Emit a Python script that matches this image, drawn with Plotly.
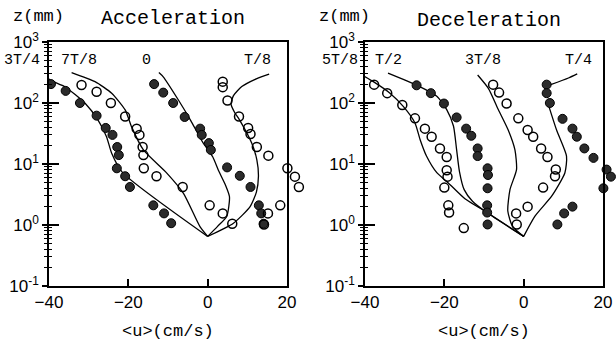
import plotly.graph_objects as go

# ---------------- data (u in cm/s, z in mm) ----------------
# Acceleration panel: measured points
acc_3T4_u = [-39.5, -35.8, -32.2, -28.0, -25.7, -24.0, -22.8, -22.4, -22.9, -20.8, -19.6, -13.7, -11.0, -9.2]
acc_3T4_z = [204, 158, 100, 62, 39, 30, 19, 14, 8.5, 6.3, 4.2, 2.1, 1.55, 1.07]
acc_7T8_u = [-31.8, -28.0, -24.4, -20.8, -17.9, -17.2, -16.4, -16.2, -16.1, -12.9, -6.3, 0.5, 3.8, 6.2]
acc_7T8_z = [197, 153, 100, 60, 38, 30, 19, 14, 8.5, 6.3, 4.2, 2.1, 1.55, 1.05]
acc_0_u = [-13.5, -11.2, -8.7, -5.8, -1.9, -1.5, 0.3, 0.8, 4.9, 8.1, 10.8, 12.9, 13.5, 14.1]
acc_0_z = [204, 148, 100, 59, 38, 30, 22, 17, 8.8, 6.4, 4.2, 2.1, 1.55, 1.05]
acc_T8_u = [3.8, 3.8, 5.0, 7.9, 10.2, 10.8, 12.4, 15.3, 20.1, 22.0, 23.0, 18.3, 15.2, 14.2]
acc_T8_z = [224, 182, 110, 60, 39, 31, 19, 13.7, 8.5, 6.2, 4.2, 2.1, 1.55, 1.02]

# Acceleration panel: computed curves
acc_line_3T4_u = [-41.8, -39.7, -36.0, -30.9, -27.6, -25.5, -24.2, -21.5, 0.0]
acc_line_3T4_z = [324, 238, 185, 99, 52, 28, 15, 7.3, 0.65]
acc_line_7T8_u = [-34.3, -28.4, -24.2, -20.8, -19.2, -16.2, -10.3, -6.1, -1.9, 0.0]
acc_line_7T8_z = [316, 224, 145, 77, 41, 17, 7.1, 3.3, 0.93, 0.65]
acc_line_0_u = [-12.3, -11.2, -7.3, -4.3, -1.3, 1.3, 2.7, 4.5, 5.5, 4.8, 2.5, 0.0]
acc_line_0_z = [316, 269, 110, 52, 23, 13, 7.9, 4.5, 2.9, 1.38, 0.95, 0.65]
acc_line_T8_u = [15.5, 12.4, 8.6, 6.5, 5.9, 6.8, 8.1, 11.1, 12.4, 12.8, 12.3, 10.7, 6.5, 0.0]
acc_line_T8_z = [298, 251, 186, 132, 95, 70, 52, 22, 11.7, 6.3, 3.5, 2.0, 1.07, 0.65]

# Deceleration panel: measured points
dec_5T8_u = [-37.7, -34.4, -30.6, -27.4, -24.9, -23.2, -21.1, -19.4, -19.4, -19.2, -20.0, -19.0, -18.8, -15.1]
dec_5T8_z = [200, 145, 93, 56, 38, 28, 18, 13, 7.9, 6.2, 4.1, 2.1, 1.6, 0.89]
dec_T2_u = [-27.0, -23.4, -20.1, -16.9, -14.5, -13.2, -11.6, -11.6, -9.1, -9.0, -9.1, -9.2, -9.2, -9.1]
dec_T2_z = [195, 145, 98, 58, 38, 29, 18, 13.5, 8.5, 6.6, 4.0, 2.1, 1.6, 1.02]
dec_3T8_u = [-7.7, -6.2, -4.3, -1.35, 1.0, 2.4, 4.4, 6.0, 8.1, 7.9, 4.9, 1.0, -1.9, -1.75]
dec_3T8_z = [200, 148, 98, 56, 36, 28, 18, 13, 8.1, 6.3, 4.1, 2.0, 1.55, 1.02]
dec_T4_u = [5.8, 5.8, 6.6, 9.8, 12.3, 13.4, 15.3, 17.6, 20.9, 22.0, 20.1, 12.3, 10.2, 8.5]
dec_T4_z = [200, 145, 100, 55, 38, 28, 18, 12.6, 8.1, 6.2, 4.0, 2.0, 1.55, 1.02]

# Deceleration panel: computed curves
dec_line_5T8_u = [-41.3, -37.9, -33.7, -30.3, -27.4, -26.1, -24.5, -21.9, -19.0, -14.8, -9.2, 0.0]
dec_line_5T8_z = [302, 224, 145, 87, 47, 25, 13.5, 7.2, 4.9, 2.7, 1.6, 0.65]
dec_line_T2_u = [-34.2, -26.6, -21.9, -19.4, -17.7, -16.9, -16.2, -15.0, -12.9, -9.3, 0.0]
dec_line_T2_z = [309, 191, 129, 78, 42, 17, 7.6, 3.8, 2.45, 1.6, 0.65]
dec_line_3T8_u = [-11.6, -8.9, -6.4, -3.9, -2.2, -1.8, -3.45, -4.0, -2.8, 0.0]
dec_line_3T8_z = [288, 174, 78, 36, 17, 8.1, 3.8, 1.7, 0.95, 0.65]
dec_line_T4_u = [13.5, 11.3, 6.8, None, 6.2, 8.3, 10.8, 10.4, 7.1, 2.85, 0.0]
dec_line_T4_z = [300, 257, 200, None, 95, 36, 13.5, 7.2, 3.0, 1.4, 0.65]

# curve labels: (text, u, z)
acc_labels = [("3T/4", -46.8, 490), ("7T/8", -32.4, 490), ("0", -15.3, 490), ("T/8", 12.6, 490)]
dec_labels = [("5T/8", -46.3, 490), ("T/2", -34.0, 490), ("3T/8", -10.3, 490), ("T/4", 13.8, 490)]

x_range = [-40, 20]
x_ticks = [-40, -20, 0, 20]
x_ticktext = ["\u221240", "\u221220", "0", "20"]
y_range_log = [-1, 3]
y_ticks = [0.1, 1, 10, 100, 1000]
y_ticktext = ["10<sup>-1</sup>", "10<sup>0</sup>", "10<sup>1</sup>", "10<sup>2</sup>", "10<sup>3</sup>"]
y_minor = [m * 10 ** e for e in range(-1, 3) for m in range(2, 10)]

# ---------------- figure ----------------
fig = go.Figure()
MONO = "Liberation Mono, Courier New, monospace"
SANS = "Liberation Sans, Arial, sans-serif"
W, H = 616, 356

# frame (axes) pixel boxes of the two panels
L1, R1 = 49, 287
L2, R2 = 365, 603
TOP, BOT = 42, 286
ydom = [(H - BOT) / H, (H - TOP) / H]
pxu = (R1 - L1) / (x_range[1] - x_range[0])  # pixels per cm/s

# data areas extend a little past u=20 so points drawn outside the frame stay visible
D1 = 306
D2 = W
data_range1 = [x_range[0], x_range[0] + (D1 - L1) / pxu]
data_range2 = [x_range[0], x_range[0] + (D2 - L2) / pxu]

def add_points(u, z, filled, xa, ya):
    if filled:
        marker = dict(symbol="circle", size=9, color="#2b2b2b", line=dict(color="black", width=1))
    else:
        marker = dict(symbol="circle-open", size=9, color="black", line=dict(color="black", width=1.5))
    fig.add_trace(go.Scatter(x=u, y=z, mode="markers", marker=marker,
                             showlegend=False, xaxis=xa, yaxis=ya, hoverinfo="skip"))

def add_line(u, z, xa, ya):
    fig.add_trace(go.Scatter(x=u, y=z, mode="lines",
                             line=dict(color="black", width=1.3, shape="spline", smoothing=0.6),
                             connectgaps=False, showlegend=False, xaxis=xa, yaxis=ya, hoverinfo="skip"))

# acceleration (data subplot x / y)
for u, z in [(acc_line_3T4_u, acc_line_3T4_z), (acc_line_7T8_u, acc_line_7T8_z),
             (acc_line_0_u, acc_line_0_z), (acc_line_T8_u, acc_line_T8_z)]:
    add_line(u, z, "x", "y")
add_points(acc_3T4_u, acc_3T4_z, True, "x", "y")
add_points(acc_7T8_u, acc_7T8_z, False, "x", "y")
add_points(acc_0_u, acc_0_z, True, "x", "y")
add_points(acc_T8_u, acc_T8_z, False, "x", "y")

# deceleration (data subplot x2 / y2)
for u, z in [(dec_line_5T8_u, dec_line_5T8_z), (dec_line_T2_u, dec_line_T2_z),
             (dec_line_3T8_u, dec_line_3T8_z), (dec_line_T4_u, dec_line_T4_z)]:
    add_line(u, z, "x2", "y2")
add_points(dec_5T8_u, dec_5T8_z, False, "x2", "y2")
add_points(dec_T2_u, dec_T2_z, True, "x2", "y2")
add_points(dec_3T8_u, dec_3T8_z, False, "x2", "y2")
add_points(dec_T4_u, dec_T4_z, True, "x2", "y2")

# empty traces hosting the frame axes
for xa, ya in [("x3", "y3"), ("x3", "y5"), ("x4", "y4"), ("x4", "y6")]:
    fig.add_trace(go.Scatter(x=[None], y=[None], mode="markers", showlegend=False,
                             xaxis=xa, yaxis=ya, hoverinfo="skip"))

def hidden_x(dom, rng, anchor):
    return dict(domain=dom, range=rng, anchor=anchor, visible=False, fixedrange=True)

def hidden_y(anchor):
    return dict(domain=ydom, range=y_range_log, type="log", anchor=anchor, visible=False, fixedrange=True)

def frame_x(dom, anchor):
    return dict(domain=dom, anchor=anchor, range=x_range, showline=True, linecolor="black", linewidth=1.5,
                mirror=True, ticks="inside", ticklen=7, tickwidth=1.5, tickcolor="black",
                tickvals=x_ticks, ticktext=x_ticktext, tickfont=dict(family=SANS, size=17, color="black"),
                showgrid=False, zeroline=False, fixedrange=True)

def frame_y(anchor):
    return dict(domain=ydom, anchor=anchor, type="log", range=y_range_log, showline=True, linecolor="black",
                linewidth=1.5, mirror=True, ticks="outside", ticklen=5, tickwidth=1.5, tickcolor="black",
                tickvals=y_ticks, ticktext=y_ticktext, tickfont=dict(family=SANS, size=17, color="black"),
                minor=dict(tickvals=y_minor, ticks="outside", ticklen=3, tickwidth=1.3, tickcolor="black",
                           showgrid=False),
                showgrid=False, zeroline=False, fixedrange=True)

def frame_y_inner(anchor, over):
    return dict(domain=ydom, anchor=anchor, overlaying=over, side="left", type="log", range=y_range_log,
                showline=False, ticks="inside", ticklen=10, tickwidth=1.5, tickcolor="black",
                tickvals=y_ticks, showticklabels=False,
                minor=dict(tickvals=y_minor, ticks="inside", ticklen=3, tickwidth=1.3, tickcolor="black",
                           showgrid=False),
                showgrid=False, zeroline=False, fixedrange=True)

annotations = []
def ann(text, xpx, ypx, size, family=MONO):
    annotations.append(dict(text=text, x=xpx / W, y=1 - ypx / H, xref="paper", yref="paper",
                            showarrow=False, xanchor="center", yanchor="middle",
                            font=dict(family=family, size=size, color="black")))

ann("Acceleration", 172.5, 19, 20)
ann("Deceleration", 489, 20, 20)
ann("z(mm)", 38, 17, 17)
ann("z(mm)", 344, 17, 17)
ann("&lt;u&gt;(cm/s)", 168, 331, 17)
ann("&lt;u&gt;(cm/s)", 484, 331, 17)

import math
def label_px(u, z, left):
    xpx = left + (u - x_range[0]) * pxu
    ypx = TOP + (y_range_log[1] - math.log10(z)) * (BOT - TOP) / (y_range_log[1] - y_range_log[0])
    return xpx, ypx

for t, u, z in acc_labels:
    ann(t, *label_px(u, z, L1), 15)
for t, u, z in dec_labels:
    ann(t, *label_px(u, z, L2), 15)

fig.update_layout(
    width=W, height=H, margin=dict(l=0, r=0, t=0, b=0, autoexpand=False),
    paper_bgcolor="white", plot_bgcolor="rgba(0,0,0,0)", showlegend=False,
    xaxis=hidden_x([L1 / W, D1 / W], data_range1, "y"), yaxis=hidden_y("x"),
    xaxis2=hidden_x([L2 / W, D2 / W], data_range2, "y2"), yaxis2=hidden_y("x2"),
    xaxis3=frame_x([L1 / W, R1 / W], "y3"), yaxis3=frame_y("x3"), yaxis5=frame_y_inner("x3", "y3"),
    xaxis4=frame_x([L2 / W, R2 / W], "y4"), yaxis4=frame_y("x4"), yaxis6=frame_y_inner("x4", "y4"),
    annotations=annotations,
)

fig.write_html("out.html")
